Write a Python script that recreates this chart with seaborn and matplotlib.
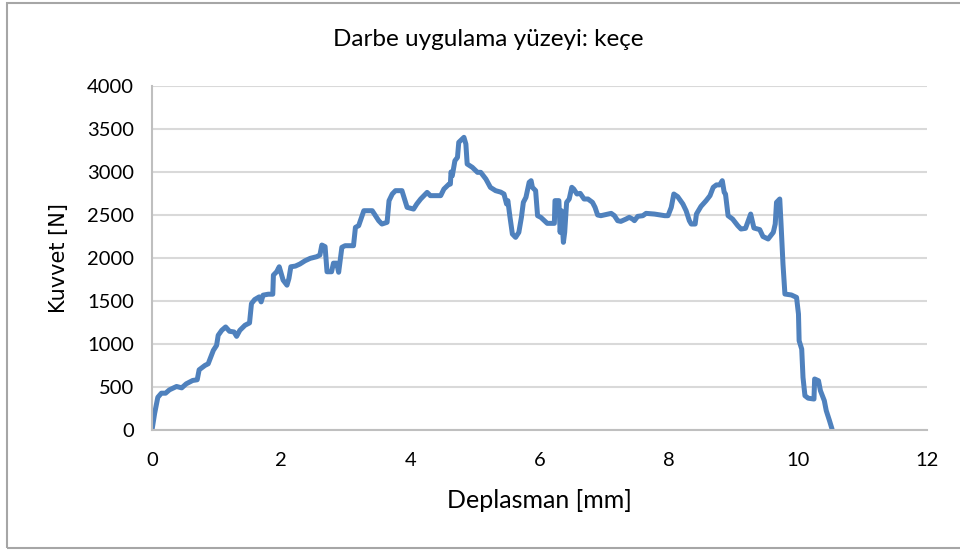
import matplotlib
matplotlib.use("Agg")
import matplotlib.pyplot as plt
import seaborn as sns
import pandas as pd
from matplotlib.patches import Rectangle

# displacement [mm] and force [N]
deplasman = [
    0.00, 0.04, 0.09, 0.145, 0.21, 0.27, 0.38, 0.46, 0.53, 0.63, 0.70, 0.73,
    0.82, 0.87, 0.90, 0.95, 1.00, 1.025, 1.08, 1.14, 1.20, 1.27, 1.31, 1.36,
    1.44, 1.51, 1.54, 1.59, 1.66, 1.69, 1.72, 1.80, 1.87, 1.88, 1.93, 1.97,
    2.03, 2.09, 2.12, 2.15, 2.22, 2.29, 2.37, 2.45, 2.55, 2.60, 2.63, 2.68,
    2.71, 2.78, 2.81, 2.86, 2.89, 2.94, 2.99, 3.12, 3.15, 3.20, 3.28, 3.41,
    3.51, 3.56, 3.64, 3.67, 3.72, 3.77, 3.87, 3.95, 4.05, 4.10, 4.16, 4.21,
    4.26, 4.31, 4.47, 4.52, 4.60, 4.62, 4.63, 4.65, 4.69, 4.73, 4.75, 4.83,
    4.86, 4.88, 4.96, 5.04, 5.09, 5.17, 5.24, 5.32, 5.40, 5.45, 5.49, 5.51,
    5.54, 5.58, 5.63, 5.68, 5.72, 5.75, 5.79, 5.84, 5.87, 5.89, 5.94, 5.97,
    6.02, 6.12, 6.23, 6.24, 6.30, 6.32, 6.34, 6.37, 6.39, 6.42, 6.46, 6.50,
    6.53, 6.58, 6.63, 6.69, 6.75, 6.82, 6.86, 6.90, 6.95, 7.11, 7.16, 7.21,
    7.26, 7.34, 7.39, 7.44, 7.47, 7.52, 7.60, 7.65, 7.78, 7.94, 7.99, 8.04,
    8.08, 8.14, 8.22, 8.27, 8.32, 8.35, 8.41, 8.43, 8.50, 8.58, 8.64, 8.69,
    8.74, 8.79, 8.83, 8.86, 8.88, 8.92, 8.99, 9.07, 9.12, 9.19, 9.27, 9.32,
    9.41, 9.46, 9.54, 9.62, 9.65, 9.67, 9.72, 9.74, 9.77, 9.80, 9.90, 9.98,
    10.01, 10.02, 10.06, 10.08, 10.11, 10.16, 10.25, 10.26, 10.32, 10.35,
    10.41, 10.44, 10.49, 10.53,
]
kuvvet = [
    0, 190, 380, 428, 428, 467, 506, 490, 537, 576, 584, 700,
    751, 770, 829, 926, 984, 1101, 1159, 1198, 1148, 1140, 1089, 1159,
    1218, 1245, 1470, 1517, 1548, 1490, 1568, 1579, 1579, 1801, 1840, 1898,
    1743, 1684, 1762, 1898, 1906, 1930, 1968, 1996, 2015, 2035, 2151, 2132,
    1840, 1840, 1940, 1940, 1834, 2124, 2143, 2143, 2356, 2376, 2550, 2550,
    2434, 2395, 2415, 2666, 2744, 2783, 2783, 2589, 2569, 2628, 2686, 2725,
    2763, 2725, 2725, 2802, 2860, 2860, 3000, 2957, 3131, 3170, 3345, 3403,
    3325, 3093, 3054, 2996, 2996, 2918, 2821, 2783, 2766, 2744, 2628, 2667,
    2492, 2279, 2240, 2298, 2473, 2647, 2705, 2880, 2899, 2822, 2783, 2492,
    2473, 2403, 2403, 2667, 2667, 2298, 2550, 2182, 2298, 2647, 2686, 2822,
    2802, 2744, 2752, 2686, 2686, 2647, 2589, 2500, 2492, 2519, 2492, 2434,
    2426, 2453, 2473, 2453, 2434, 2484, 2492, 2519, 2511, 2492, 2492, 2589,
    2744, 2713, 2628, 2550, 2434, 2395, 2395, 2511, 2600, 2667, 2725, 2822,
    2850, 2850, 2899, 2763, 2744, 2492, 2453, 2376, 2337, 2345, 2511, 2349,
    2330, 2250, 2221, 2298, 2395, 2647, 2686, 2395, 1930, 1581, 1570, 1542,
    1348, 1038, 941, 612, 399, 370, 360, 593, 573, 457,
    341, 225, 109, 10,
]

x_ticks = [0, 2, 4, 6, 8, 10, 12]
y_ticks = [0, 500, 1000, 1500, 2000, 2500, 3000, 3500, 4000]

sns.set_theme(style="white")
plt.rcParams['font.family'] = ['Lato', 'DejaVu Sans']

df = pd.DataFrame({"Deplasman": deplasman, "Kuvvet": kuvvet})

fig = plt.figure(figsize=(9.6, 5.51), dpi=100)
fig.patch.set_facecolor('white')
ax = fig.add_axes([152 / 960, 1 - 430 / 551, 775 / 960, 344 / 551])

sns.lineplot(data=df, x="Deplasman", y="Kuvvet", sort=False, estimator=None,
             color='#4f81bd', linewidth=3.6, ax=ax)

ax.set_xlim(0, 12)
ax.set_ylim(0, 4000)
ax.set_xticks(x_ticks)
ax.set_yticks(y_ticks)
ax.grid(True, axis='y', color='#d9d9d9', linewidth=1.5)
ax.set_axisbelow(True)
for side in ['top', 'right']:
    ax.spines[side].set_visible(False)
for side in ['left', 'bottom']:
    ax.spines[side].set_color('#bfbfbf')
    ax.spines[side].set_linewidth(1.5)
ax.tick_params(axis='both', which='major', direction='out', length=5,
               width=1.5, color='#bfbfbf', labelsize=14.5, labelcolor='black')
ax.tick_params(axis='x', pad=11)
ax.tick_params(axis='y', pad=8)

ax.set_xlabel("Deplasman [mm]", fontsize=18, color='black')
ax.set_ylabel("Kuvvet [N]", fontsize=15, color='black', family='DejaVu Sans')
ax.xaxis.set_label_coords(0.5, (430 - 501) / 344)
ax.xaxis.label.set_va('center')
ax.yaxis.set_label_coords((59 - 152) / 775, 0.5)
ax.yaxis.label.set_va('center')

fig.text(488 / 960, 1 - 39 / 551, "Darbe uygulama yüzeyi: keçe",
         ha='center', va='center', fontsize=17.5, color='black')

# outer chart border (right side runs off the image)
fig.patches.append(Rectangle((7 / 960, 3 / 551), 1.2, 545 / 551,
                             transform=fig.transFigure, fill=False,
                             edgecolor='#a6a6a6', linewidth=1.5, zorder=0))

fig.savefig('out.png', dpi=100)
